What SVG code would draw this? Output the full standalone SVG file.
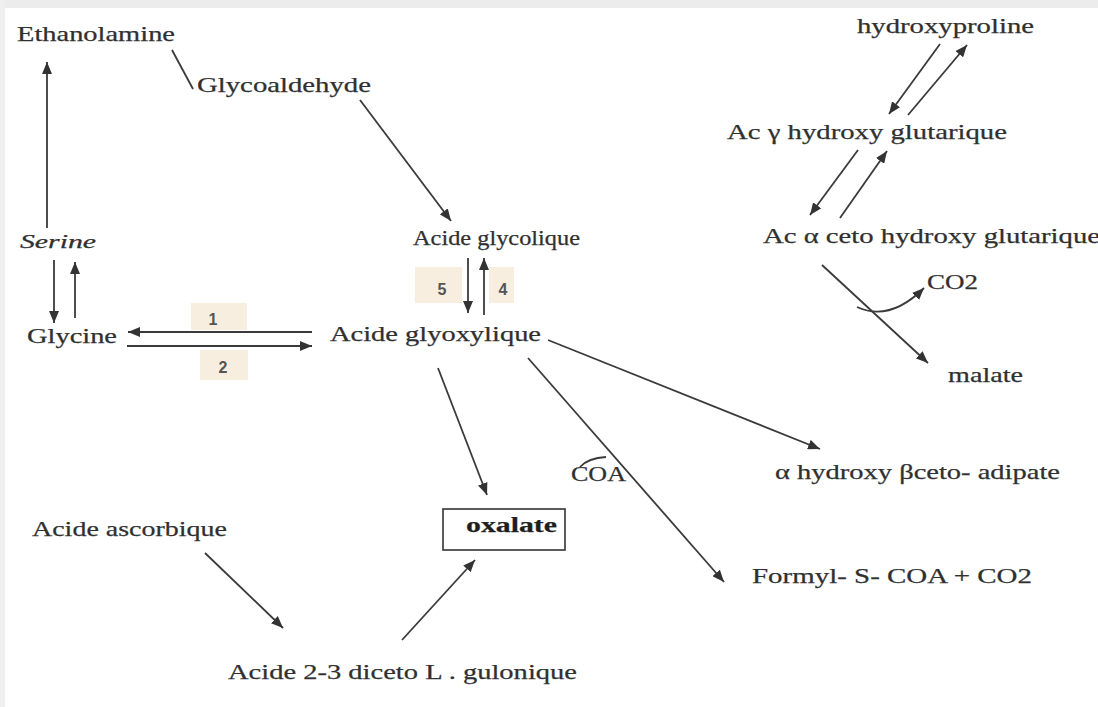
<svg xmlns="http://www.w3.org/2000/svg" width="1098" height="707" viewBox="0 0 1098 707">
  <style>
    .t { font-family: "Liberation Serif", "Times New Roman", serif; font-size: 22px; fill: #303030; stroke: #303030; stroke-width: 0.25; }
    .b { font-weight: bold; fill: #1e1e1e; }
    .it { font-style: italic; font-size: 18px; }
    .n { font-family: "Liberation Sans", Arial, sans-serif; font-size: 16px; font-weight: bold; fill: #555; text-anchor: middle; }
    .c { fill: none; stroke: #3a3a3a; stroke-width: 1.8; }
    .a { marker-end: url(#ah); }
    .tag { fill: #f8eedf; }
  </style>
  <defs>
    <marker id="ah" viewBox="0 0 12 10" refX="12" refY="5" markerWidth="12" markerHeight="10" markerUnits="userSpaceOnUse" orient="auto">
      <path d="M0,0 L12,5 L0,10 z" fill="#333"/>
    </marker>
  </defs>

  <!-- page -->
  <rect x="0" y="0" width="1098" height="707" fill="#ffffff"/>
  <rect x="0" y="0" width="1098" height="8" fill="#ececec"/>
  <rect x="0" y="0" width="5" height="707" fill="#efefef"/>

  <!-- enzyme tags -->
  <g id="tags">
    <rect class="tag" x="191" y="303" width="56" height="27"/>
    <rect class="tag" x="200" y="350" width="48" height="30"/>
    <rect class="tag" x="415" y="267" width="47" height="36"/>
    <rect class="tag" x="489" y="267" width="25" height="36"/>
    <text class="n" x="213" y="325">1</text>
    <text class="n" x="223" y="373">2</text>
    <text class="n" x="442" y="295">5</text>
    <text class="n" x="503" y="295">4</text>
  </g>

  <!-- connectors -->
  <g id="connectors">
    <path class="c" d="M172,50 L193,89"/>
    <path class="c a" d="M47,228 L47,62"/>
    <path class="c a" d="M54,260 L54,323"/>
    <path class="c a" d="M75,318 L75,262"/>
    <path class="c a" d="M312,332 L128,332"/>
    <path class="c a" d="M127,346 L312,346"/>
    <path class="c a" d="M360,100 L451,221"/>
    <path class="c a" d="M468,258 L468,313"/>
    <path class="c a" d="M484,315 L484,258"/>
    <path class="c a" d="M438,368 L487,495"/>
    <path class="c a" d="M548,340 L820,449"/>
    <path class="c a" d="M528,358 L724,582"/>
    <path class="c" d="M580,467 Q588,458 606,457"/>
    <path class="c a" d="M205,553 L283,628"/>
    <path class="c a" d="M402,640 L475,560"/>
    <path class="c a" d="M940,44 L889,114"/>
    <path class="c a" d="M908,115 L967,45"/>
    <path class="c a" d="M858,150 L810,215"/>
    <path class="c a" d="M840,218 L887,151"/>
    <path class="c a" d="M822,265 L928,363"/>
    <path class="c a" d="M857,307 Q890,322 924,288"/>
  </g>

  <!-- metabolites -->
  <g id="ethanolamine"><text class="t" x="17" y="41" textLength="158" lengthAdjust="spacingAndGlyphs">Ethanolamine</text></g>
  <g id="glycoaldehyde"><text class="t" x="197" y="92" textLength="174" lengthAdjust="spacingAndGlyphs">Glycoaldehyde</text></g>
  <g id="serine"><text class="t it" x="20" y="248" textLength="76" lengthAdjust="spacingAndGlyphs">Serine</text></g>
  <g id="glycine"><text class="t" x="27" y="343" textLength="90" lengthAdjust="spacingAndGlyphs">Glycine</text></g>
  <g id="acide-glycolique"><text class="t" x="413" y="245" textLength="167" lengthAdjust="spacingAndGlyphs">Acide glycolique</text></g>
  <g id="acide-glyoxylique"><text class="t" x="330" y="341" textLength="211" lengthAdjust="spacingAndGlyphs">Acide glyoxylique</text></g>
  <g id="oxalate">
    <rect x="443" y="509" width="122" height="41" fill="none" stroke="#333" stroke-width="1.6"/>
    <text class="t b" x="466" y="532" textLength="91" lengthAdjust="spacingAndGlyphs">oxalate</text>
  </g>
  <g id="acide-ascorbique"><text class="t" x="32" y="536" textLength="195" lengthAdjust="spacingAndGlyphs">Acide ascorbique</text></g>
  <g id="diceto-gulonique"><text class="t" x="228" y="679" textLength="349" lengthAdjust="spacingAndGlyphs">Acide 2-3 diceto L . gulonique</text></g>
  <g id="coa"><text class="t" x="571" y="481" textLength="55" lengthAdjust="spacingAndGlyphs">COA</text></g>
  <g id="hydroxy-cetoadipate"><text class="t" x="775" y="479" textLength="285" lengthAdjust="spacingAndGlyphs">α hydroxy βceto- adipate</text></g>
  <g id="formyl-coa"><text class="t" x="752" y="583" textLength="280" lengthAdjust="spacingAndGlyphs">Formyl- S- COA + CO2</text></g>
  <g id="hydroxyproline"><text class="t" x="857" y="33" textLength="177" lengthAdjust="spacingAndGlyphs">hydroxyproline</text></g>
  <g id="gamma-hydroxyglutarique"><text class="t" x="727" y="139" textLength="280" lengthAdjust="spacingAndGlyphs">Ac γ hydroxy glutarique</text></g>
  <g id="alpha-ceto-hydroxyglutarique"><text class="t" x="763" y="243" textLength="337" lengthAdjust="spacingAndGlyphs">Ac α ceto hydroxy glutarique</text></g>
  <g id="co2"><text class="t" x="927" y="289" textLength="51" lengthAdjust="spacingAndGlyphs">CO2</text></g>
  <g id="malate"><text class="t" x="948" y="382" textLength="75" lengthAdjust="spacingAndGlyphs">malate</text></g>
</svg>
